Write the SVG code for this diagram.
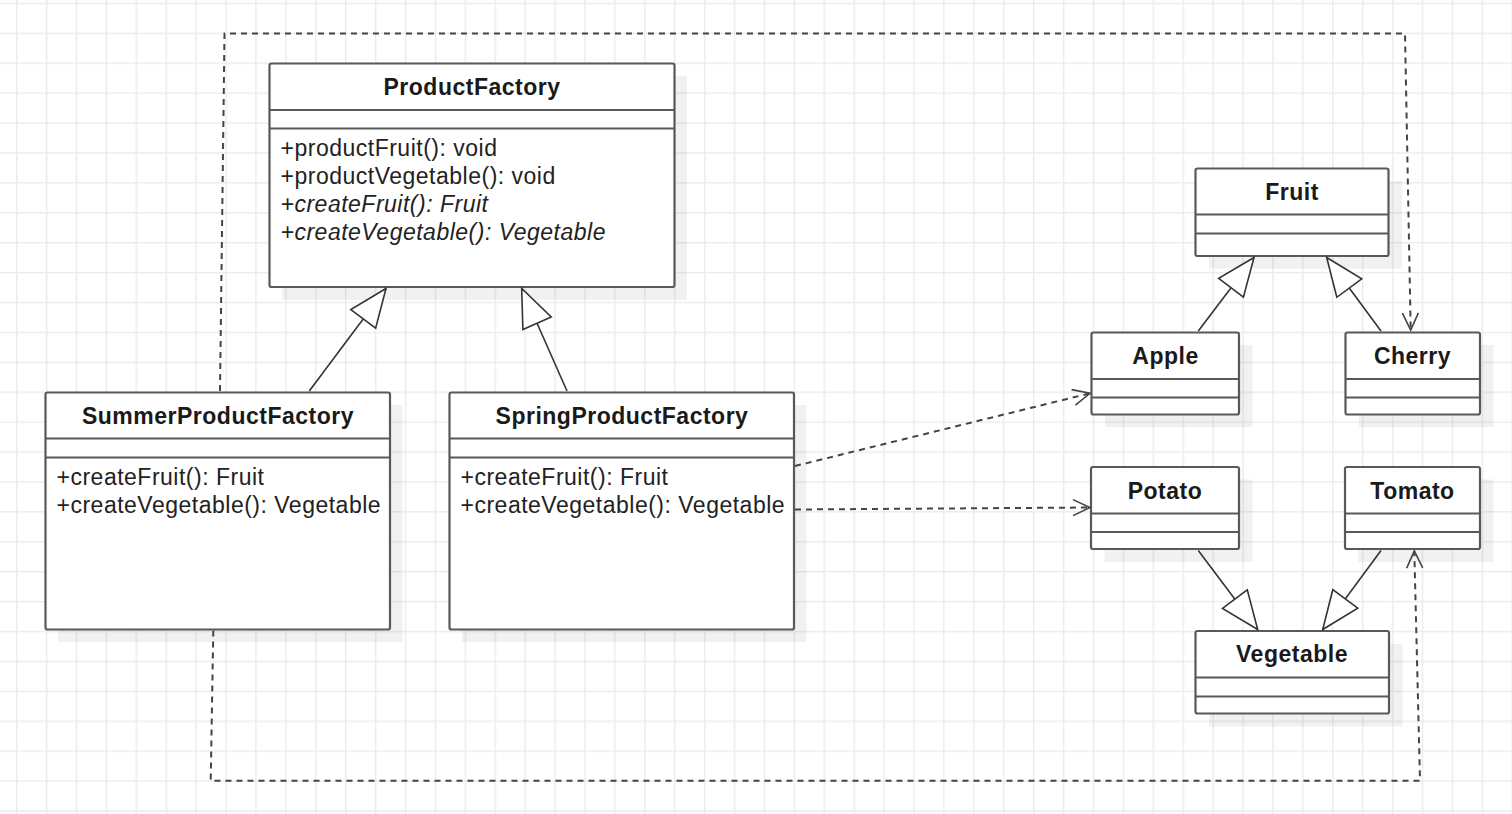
<svg xmlns="http://www.w3.org/2000/svg" width="1512" height="814" viewBox="0 0 1512 814">
<style>
.box{fill:#fff;stroke:#595959;stroke-width:2.2}
.div{stroke:#595959;stroke-width:2.2}
.shadow{fill:#000;fill-opacity:0.055}
.title{font-family:"Liberation Sans",Arial,sans-serif;font-size:23px;font-weight:bold;fill:#1a1a1a;text-anchor:middle;letter-spacing:0.5px}
.meth{font-family:"Liberation Sans",Arial,sans-serif;font-size:23px;fill:#222;letter-spacing:0.5px}
.it{font-style:italic}
.gen{fill:none;stroke:#333;stroke-width:1.6}
.dep{fill:none;stroke:#444;stroke-width:2;stroke-dasharray:6 5}
</style>
<defs>
<pattern id="grid" patternUnits="userSpaceOnUse" x="16" y="2.7" width="29.91" height="29.91">
<rect x="0" y="0" width="1.4" height="29.91" fill="#ebebeb"/>
<rect x="0" y="0" width="29.91" height="1.4" fill="#ebebeb"/>
</pattern>
<marker id="tri" markerUnits="userSpaceOnUse" viewBox="-40 -17 42 34" refX="0" refY="0" markerWidth="42" markerHeight="34" orient="auto">
<path d="M0,0 L-38,-15.5 L-38,15.5 Z" fill="#fff" stroke="#333" stroke-width="1.6" stroke-linejoin="miter"/>
</marker>
<marker id="open" markerUnits="userSpaceOnUse" viewBox="-20 -10 22 20" refX="0" refY="0" markerWidth="22" markerHeight="20" orient="auto">
<path d="M-17,-8 L0,0 L-17,8" fill="none" stroke="#444" stroke-width="1.6"/>
</marker>
</defs>
<rect width="1512" height="814" fill="#fff"/>
<rect width="1512" height="814" fill="url(#grid)"/>

<g id="ProductFactory">
<rect class="shadow" x="282" y="76" width="405" height="224"/>
<rect class="box" x="269.5" y="63.5" width="405" height="223.5" rx="2"/>
<line class="div" x1="269.5" y1="110" x2="674.5" y2="110"/>
<line class="div" x1="269.5" y1="128.5" x2="674.5" y2="128.5"/>
<text class="title" x="472" y="95">ProductFactory</text>
<text class="meth" x="280.5" y="156">+productFruit(): void</text>
<text class="meth" x="280.5" y="184">+productVegetable(): void</text>
<text class="meth it" x="280.5" y="212">+createFruit(): Fruit</text>
<text class="meth it" x="280.5" y="240">+createVegetable(): Vegetable</text>
</g>

<g id="SummerProductFactory">
<rect class="shadow" x="58" y="405" width="344.5" height="237"/>
<rect class="box" x="45.5" y="392.5" width="344.5" height="237" rx="2"/>
<line class="div" x1="45.5" y1="438.5" x2="390" y2="438.5"/>
<line class="div" x1="45.5" y1="457.5" x2="390" y2="457.5"/>
<text class="title" x="218" y="424">SummerProductFactory</text>
<text class="meth" x="56.5" y="485">+createFruit(): Fruit</text>
<text class="meth" x="56.5" y="513">+createVegetable(): Vegetable</text>
</g>

<g id="SpringProductFactory">
<rect class="shadow" x="462" y="405" width="344.5" height="237"/>
<rect class="box" x="449.5" y="392.5" width="344.5" height="237" rx="2"/>
<line class="div" x1="449.5" y1="438.5" x2="794" y2="438.5"/>
<line class="div" x1="449.5" y1="457.5" x2="794" y2="457.5"/>
<text class="title" x="622" y="424">SpringProductFactory</text>
<text class="meth" x="460.5" y="485">+createFruit(): Fruit</text>
<text class="meth" x="460.5" y="513">+createVegetable(): Vegetable</text>
</g>

<g id="Fruit">
<rect class="shadow" x="1209" y="181" width="193" height="87.5"/>
<rect class="box" x="1195.5" y="168.5" width="193" height="87.5" rx="2"/>
<line class="div" x1="1195.5" y1="214.5" x2="1388.5" y2="214.5"/>
<line class="div" x1="1195.5" y1="233.5" x2="1388.5" y2="233.5"/>
<text class="title" x="1292" y="199.5">Fruit</text>
</g>

<g id="Apple">
<rect class="shadow" x="1105" y="345" width="147.5" height="82"/>
<rect class="box" x="1091.5" y="332.5" width="147.5" height="82" rx="2"/>
<line class="div" x1="1091.5" y1="379" x2="1239" y2="379"/>
<line class="div" x1="1091.5" y1="397.5" x2="1239" y2="397.5"/>
<text class="title" x="1165.5" y="363.5">Apple</text>
</g>

<g id="Cherry">
<rect class="shadow" x="1359" y="345" width="134.5" height="82"/>
<rect class="box" x="1345.5" y="332.5" width="134.5" height="82" rx="2"/>
<line class="div" x1="1345.5" y1="379" x2="1480" y2="379"/>
<line class="div" x1="1345.5" y1="397.5" x2="1480" y2="397.5"/>
<text class="title" x="1412.5" y="363.5">Cherry</text>
</g>

<g id="Potato">
<rect class="shadow" x="1104.5" y="479.5" width="148" height="82.5"/>
<rect class="box" x="1091" y="467" width="148" height="82" rx="2"/>
<line class="div" x1="1091" y1="513.5" x2="1239" y2="513.5"/>
<line class="div" x1="1091" y1="532" x2="1239" y2="532"/>
<text class="title" x="1165" y="498.5">Potato</text>
</g>

<g id="Tomato">
<rect class="shadow" x="1358.5" y="479.5" width="135" height="82.5"/>
<rect class="box" x="1345" y="467" width="135" height="82" rx="2"/>
<line class="div" x1="1345" y1="513.5" x2="1480" y2="513.5"/>
<line class="div" x1="1345" y1="532" x2="1480" y2="532"/>
<text class="title" x="1412.5" y="498.5">Tomato</text>
</g>

<g id="Vegetable">
<rect class="shadow" x="1209" y="644" width="193.5" height="82.5"/>
<rect class="box" x="1195.5" y="631" width="193.5" height="82.5" rx="2"/>
<line class="div" x1="1195.5" y1="677.5" x2="1389" y2="677.5"/>
<line class="div" x1="1195.5" y1="696.5" x2="1389" y2="696.5"/>
<text class="title" x="1292" y="662">Vegetable</text>
</g>

<g id="connectors">
<path class="gen" d="M309.3,391 L386,288.5" marker-end="url(#tri)"/>
<path class="gen" d="M567,391 L521.7,288.5" marker-end="url(#tri)"/>
<path class="gen" d="M1198.3,331 L1254,257.5" marker-end="url(#tri)"/>
<path class="gen" d="M1381,331 L1326.7,257.5" marker-end="url(#tri)"/>
<path class="gen" d="M1198.3,550.5 L1257.7,629.5" marker-end="url(#tri)"/>
<path class="gen" d="M1381,550.5 L1322.7,629.5" marker-end="url(#tri)"/>
<path class="dep" d="M220,391 L224.5,33.5 L1405,33.5 L1410.7,330" marker-end="url(#open)"/>
<path class="dep" d="M213.3,630.5 L210.7,780.7 L1420,780.7 L1414.3,551" marker-end="url(#open)"/>
<path class="dep" d="M795,466 L1090,393.3" marker-end="url(#open)"/>
<path class="dep" d="M795,509.5 L1090,507.5" marker-end="url(#open)"/>
</g>
</svg>
